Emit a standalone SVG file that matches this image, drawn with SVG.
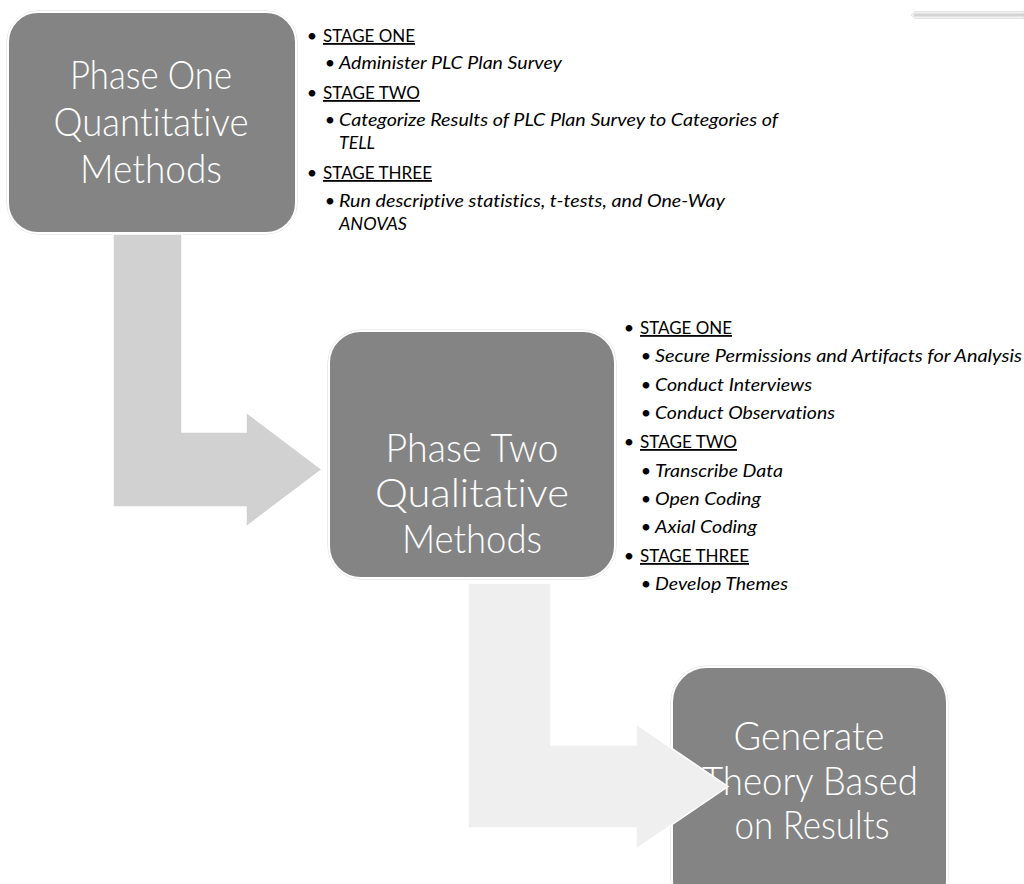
<svg xmlns="http://www.w3.org/2000/svg" width="1024" height="884" viewBox="0 0 1024 884">
  <style>
    text { font-variant-ligatures: none; font-feature-settings: "liga" 0, "dlig" 0; }
    .box { fill: #848484; stroke: #ffffff; stroke-width: 2; }
    .boxedge { fill: none; stroke: #d9d9d9; stroke-width: 1; }
    .btxt { font-family: Lato, "Open Sans", sans-serif; font-weight: 300; font-size: 39px; fill: #ffffff; text-anchor: middle; }
    .head { font-family: Lato, "Open Sans", sans-serif; font-size: 18px; fill: #000000; text-decoration: underline; }
    .item { font-family: Lato, "Open Sans", sans-serif; font-size: 18px; font-style: italic; fill: #000000; }
    .bul { font-family: Lato, "Open Sans", sans-serif; font-size: 18px; fill: #000000; text-anchor: middle; }
    .arr1 { fill: #d1d1d1; stroke: #ffffff; stroke-width: 1.5; }
    .arr2 { fill: #efefef; stroke: #ffffff; stroke-width: 1.5; }
  </style>
  <rect width="1024" height="884" fill="#ffffff"/>

  <!-- top-right artifact -->
  <g id="corner-mark">
    <path d="M911,15 L915,11.5 H1024 V18.5 H915 Z" fill="#f2f2f2" stroke="#e3e3e3" stroke-width="1"/>
    <rect x="914" y="13.5" width="110" height="3" fill="#d4d4d4"/>
  </g>

  <g id="phase-one">
    <rect class="boxedge" x="7" y="11" width="290" height="223" rx="31"/>
    <rect class="box" x="8" y="12" width="288" height="221" rx="30"/>
    <text class="btxt" x="151" y="89" textLength="162" lengthAdjust="spacingAndGlyphs">Phase One</text>
    <text class="btxt" x="151" y="136" textLength="195" lengthAdjust="spacingAndGlyphs">Quantitative</text>
    <text class="btxt" x="151" y="183" textLength="142" lengthAdjust="spacingAndGlyphs">Methods</text>
  </g>

  <g id="phase-one-list">
    <text class="bul" x="312" y="42">•</text>
    <text class="head" x="323" y="42" textLength="92" lengthAdjust="spacingAndGlyphs">STAGE ONE</text>
    <text class="bul" x="330" y="69">•</text>
    <text class="item" x="339" y="69" textLength="223" lengthAdjust="spacingAndGlyphs">Administer PLC Plan Survey</text>
    <text class="bul" x="312" y="99">•</text>
    <text class="head" x="323" y="99" textLength="97" lengthAdjust="spacingAndGlyphs">STAGE TWO</text>
    <text class="bul" x="330" y="126">•</text>
    <text class="item" x="339" y="126" textLength="439" lengthAdjust="spacingAndGlyphs">Categorize Results of PLC Plan Survey to Categories of</text>
    <text class="item" x="339" y="149" textLength="36" lengthAdjust="spacingAndGlyphs">TELL</text>
    <text class="bul" x="312" y="179">•</text>
    <text class="head" x="323" y="179" textLength="109" lengthAdjust="spacingAndGlyphs">STAGE THREE</text>
    <text class="bul" x="330" y="207">•</text>
    <text class="item" x="339" y="207" textLength="386" lengthAdjust="spacingAndGlyphs">Run descriptive statistics, t-tests, and One-Way</text>
    <text class="item" x="339" y="230" textLength="68" lengthAdjust="spacingAndGlyphs">ANOVAS</text>
  </g>

  <g id="phase-two">
    <rect class="boxedge" x="328" y="330" width="288" height="249" rx="33"/>
    <rect class="box" x="329" y="331" width="286" height="247" rx="32"/>
    <text class="btxt" x="472" y="462" textLength="173" lengthAdjust="spacingAndGlyphs">Phase Two</text>
    <text class="btxt" x="472" y="507" textLength="194" lengthAdjust="spacingAndGlyphs">Qualitative</text>
    <text class="btxt" x="472" y="553" textLength="140" lengthAdjust="spacingAndGlyphs">Methods</text>
  </g>

  <g id="phase-two-list">
    <text class="bul" x="629" y="334">•</text>
    <text class="head" x="640" y="334" textLength="92" lengthAdjust="spacingAndGlyphs">STAGE ONE</text>
    <text class="bul" x="646" y="362">•</text>
    <text class="item" x="655" y="362" textLength="367" lengthAdjust="spacingAndGlyphs">Secure Permissions and Artifacts for Analysis</text>
    <text class="bul" x="646" y="391">•</text>
    <text class="item" x="655" y="391" textLength="157" lengthAdjust="spacingAndGlyphs">Conduct Interviews</text>
    <text class="bul" x="646" y="419">•</text>
    <text class="item" x="655" y="419" textLength="180" lengthAdjust="spacingAndGlyphs">Conduct Observations</text>
    <text class="bul" x="629" y="448">•</text>
    <text class="head" x="640" y="448" textLength="97" lengthAdjust="spacingAndGlyphs">STAGE TWO</text>
    <text class="bul" x="646" y="477">•</text>
    <text class="item" x="655" y="477" textLength="128" lengthAdjust="spacingAndGlyphs">Transcribe Data</text>
    <text class="bul" x="646" y="505">•</text>
    <text class="item" x="655" y="505" textLength="106" lengthAdjust="spacingAndGlyphs">Open Coding</text>
    <text class="bul" x="646" y="533">•</text>
    <text class="item" x="655" y="533" textLength="102" lengthAdjust="spacingAndGlyphs">Axial Coding</text>
    <text class="bul" x="629" y="562">•</text>
    <text class="head" x="640" y="562" textLength="109" lengthAdjust="spacingAndGlyphs">STAGE THREE</text>
    <text class="bul" x="646" y="590">•</text>
    <text class="item" x="655" y="590" textLength="133" lengthAdjust="spacingAndGlyphs">Develop Themes</text>
  </g>

  <g id="generate-theory">
    <rect class="boxedge" x="671" y="666" width="277" height="250" rx="36"/>
    <rect class="box" x="672" y="667" width="275" height="248" rx="35"/>
    <text class="btxt" x="809" y="750" textLength="151" lengthAdjust="spacingAndGlyphs">Generate</text>
    <text class="btxt" x="810" y="795" textLength="216" lengthAdjust="spacingAndGlyphs">Theory Based</text>
    <text class="btxt" x="812" y="839" textLength="155" lengthAdjust="spacingAndGlyphs">on Results</text>
  </g>

  <g id="connectors">
    <path class="arr1" d="M113,234 H182 V432 H246 V412 L322,469.5 L246,527 V507 H113 Z"/>
    <path class="arr2" d="M468,583 H551 V745 H636 V724 L728,786.5 L636,849 V828 H468 Z"/>
  </g>
</svg>
